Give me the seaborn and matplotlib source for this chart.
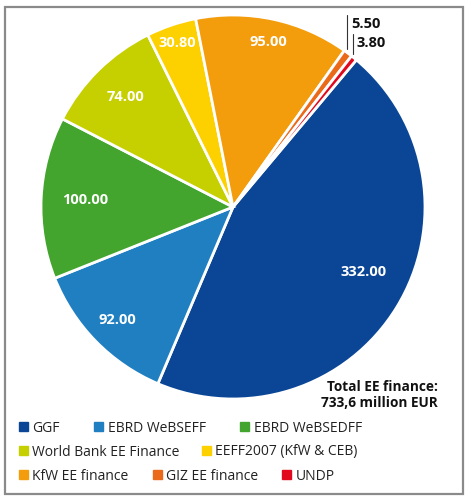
import numpy as np
import matplotlib
matplotlib.use("Agg")
import matplotlib.pyplot as plt
import matplotlib.patches as mpatches
import seaborn as sns

# Data (million EUR)
programmes = ["GGF", "EBRD WeBSEFF", "EBRD WeBSEDFF", "World Bank EE Finance",
              "EEFF2007 (KfW & CEB)", "KfW EE finance", "GIZ EE finance", "UNDP"]
amounts = [332.00, 92.00, 100.00, 74.00, 30.80, 95.00, 5.50, 3.80]
colors = ["#0b4696", "#1f7fc1", "#43a42e", "#c6d000", "#fdd000",
          "#f39c0c", "#ea6a1a", "#e1081d"]
# legend rows as laid out in the original
legend_rows = [[0, 1, 2], [3, 4], [5, 6, 7]]
total_text = "Total EE finance:\n733,6 million EUR"

sns.set_theme(style="white")
plt.rcParams["font.family"] = ["Open Sans", "DejaVu Sans"]

W, H = 471, 499
fig = plt.figure(figsize=(W / 100, H / 100), dpi=100)

# pie axes: centre ~(233, 207) px, radius ~192 px
cx, cy, r = 233, 207, 192
ax = fig.add_axes([(cx - r) / W, 1 - (cy + r) / H, 2 * r / W, 2 * r / H])
wedges, _ = ax.pie(amounts, colors=colors, startangle=50, counterclock=False,
                   wedgeprops=dict(edgecolor="white", linewidth=2))
ax.set_xlim(-1, 1)
ax.set_ylim(-1, 1)
ax.set_aspect("equal")
ax.axis("off")

# value labels inside the big slices
label_dist = [0.76, 0.84, 0.77, 0.80, 0.90, 0.88]
label_shift = [5, 0, 0, 0, 0, 0]  # degrees, nudges label along the arc
for w, val, d, s in zip(wedges[:6], amounts[:6], label_dist, label_shift):
    mid = np.deg2rad((w.theta1 + w.theta2) / 2 + s)
    ax.text(d * np.cos(mid), d * np.sin(mid), f"{val:.2f}", color="white",
            fontsize=10.5, fontweight="bold", ha="center", va="center")

# small slices: vertical leader lines with labels to the right
leader_top = [1.0, 0.90]
for w, val, top in zip(wedges[6:], amounts[6:], leader_top):
    mid = np.deg2rad((w.theta1 + w.theta2) / 2)
    x0, y0 = np.cos(mid), np.sin(mid)
    ax.plot([x0 - 0.005, x0 - 0.005], [y0 + 0.02, top], color="#333333", lw=0.8,
            clip_on=False)
    ax.text(x0 + 0.015, top - 0.045, f"{val:.2f}", color="#111111", fontsize=10.5,
            fontweight="bold", ha="left", va="center", clip_on=False)

fig.text(438 / W, 1 - 395 / H, total_text, ha="right", va="center",
         fontsize=9.8, fontweight="bold", color="#111111", linespacing=1.15)

# legend rows
row_y = [428, 452, 476]
row_gap = [2.5, 1.6, 1.75]
for row, y, gap in zip(legend_rows, row_y, row_gap):
    handles = [mpatches.Patch(color=colors[i]) for i in row]
    labels = [programmes[i] for i in row]
    fig.legend(handles, labels, loc="center left", bbox_to_anchor=(19 / W, 1 - y / H),
               ncol=len(row), frameon=False, fontsize=10, handlelength=0.65,
               handleheight=0.65, handletextpad=0.3, columnspacing=gap,
               borderpad=0, borderaxespad=0, labelcolor="#222222")

# grey frame around the figure
frame = mpatches.Rectangle((5 / W, 1 - 494 / H), 458 / W, 487 / H,
                           transform=fig.transFigure, fill=False,
                           edgecolor="#8a8a8a", linewidth=1.6)
fig.patches.append(frame)

fig.savefig("out.png", dpi=100)
